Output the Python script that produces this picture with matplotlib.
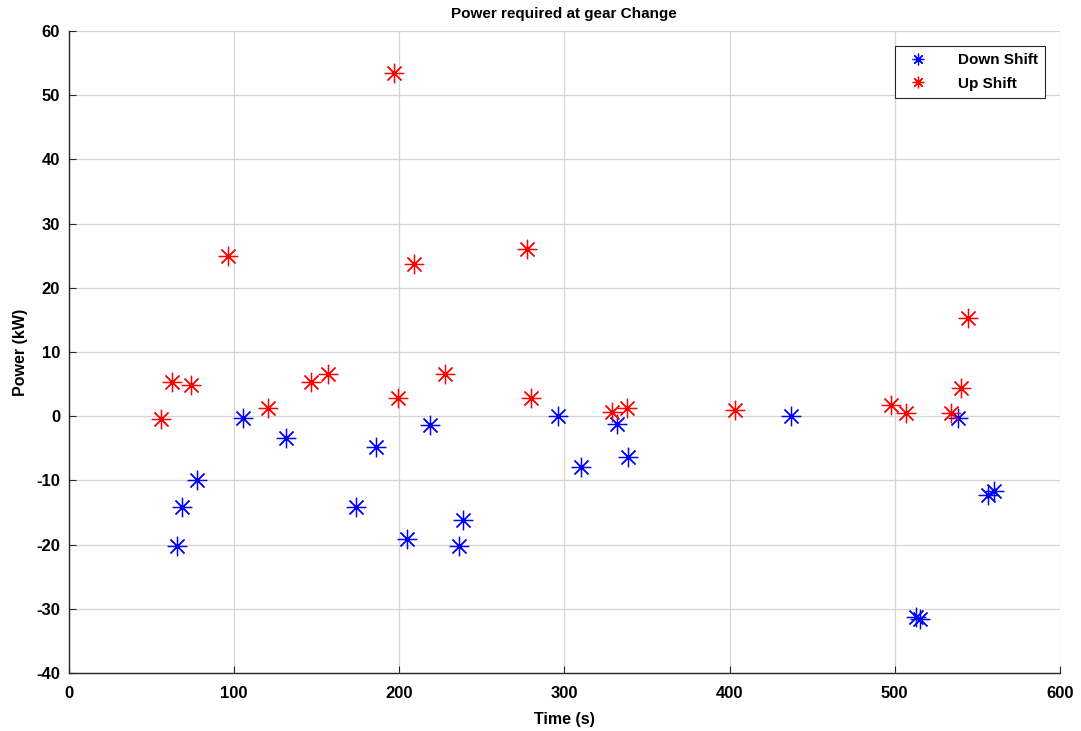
import numpy as np
import matplotlib.pyplot as plt

plt.rcParams['font.family'] = ['Liberation Sans', 'DejaVu Sans']
plt.rcParams['axes.unicode_minus'] = False

# Down shift events (time in s, power in kW)
down_time = [65.5, 68.5, 77.6, 105.3, 131.9, 174.0, 185.9, 204.8, 218.6, 236.2,
             238.7, 296.4, 310.2, 331.9, 338.6, 437.3, 513.0, 515.0, 538.5, 556.2, 559.8]
down_power = [-20.2, -14.2, -10.0, -0.3, -3.4, -14.2, -4.8, -19.2, -1.4, -20.2,
              -16.2, 0.0, -7.9, -1.2, -6.4, 0.0, -31.2, -31.6, -0.2, -12.3, -11.7]

# Up shift events
up_time = [55.7, 62.8, 74.0, 96.8, 120.8, 146.6, 157.3, 197.0, 199.3, 209.0,
           227.7, 277.5, 279.8, 328.8, 337.9, 403.4, 497.7, 506.5, 534.0, 540.1, 544.1]
up_power = [-0.5, 5.4, 4.9, 25.0, 1.3, 5.4, 6.5, 53.5, 2.9, 23.7,
            6.5, 26.1, 2.9, 0.7, 1.3, 0.9, 1.8, 0.5, 0.5, 4.4, 15.3]

asterisk = (8, 2, 0)

fig = plt.figure(figsize=(10.81, 7.31), dpi=100)
ax = fig.add_axes([0.0634, 0.0793, 0.9172, 0.8783])

ax.plot(down_time, down_power, linestyle='none', marker=asterisk, color='#0000ff',
        markersize=14, markeredgewidth=0.9, label='Down Shift')
ax.plot(up_time, up_power, linestyle='none', marker=asterisk, color='#ff0000',
        markersize=14, markeredgewidth=0.9, label='Up Shift')

ax.set_xlim(0, 600)
ax.set_ylim(-40, 60)
ax.set_xticks(np.arange(0, 601, 100))
ax.set_yticks(np.arange(-40, 61, 10))
ax.grid(True, color='#d4d4d4', linewidth=0.9)
ax.set_axisbelow(True)

for side in ['top', 'right']:
    ax.spines[side].set_visible(False)
for side in ['left', 'bottom']:
    ax.spines[side].set_linewidth(1.0)
    ax.spines[side].set_color('#262626')

ax.tick_params(direction='in', length=5, width=0.8, labelsize=12, colors='#262626',
               labelcolor='black')
ax.tick_params(axis='x', pad=9)
ax.tick_params(axis='y', pad=6)
for lab in ax.get_xticklabels() + ax.get_yticklabels():
    lab.set_fontweight('bold')

ax.set_title('Power required at gear Change', fontsize=11, fontweight='bold', pad=9)
ax.set_xlabel('Time (s)', fontsize=11.5, fontweight='bold', labelpad=8)
ax.set_ylabel('Power (kW)', fontsize=11.5, fontweight='bold', labelpad=6)

leg = ax.legend(loc='upper right', bbox_to_anchor=(0.985, 0.977), borderaxespad=0,
                fancybox=False, edgecolor='#262626', framealpha=1,
                prop={'weight': 'bold', 'size': 11}, markerscale=0.6,
                handletextpad=1.6, borderpad=0.5, labelspacing=0.6)
leg.get_frame().set_linewidth(0.8)

fig.savefig('out.png', dpi=100)
